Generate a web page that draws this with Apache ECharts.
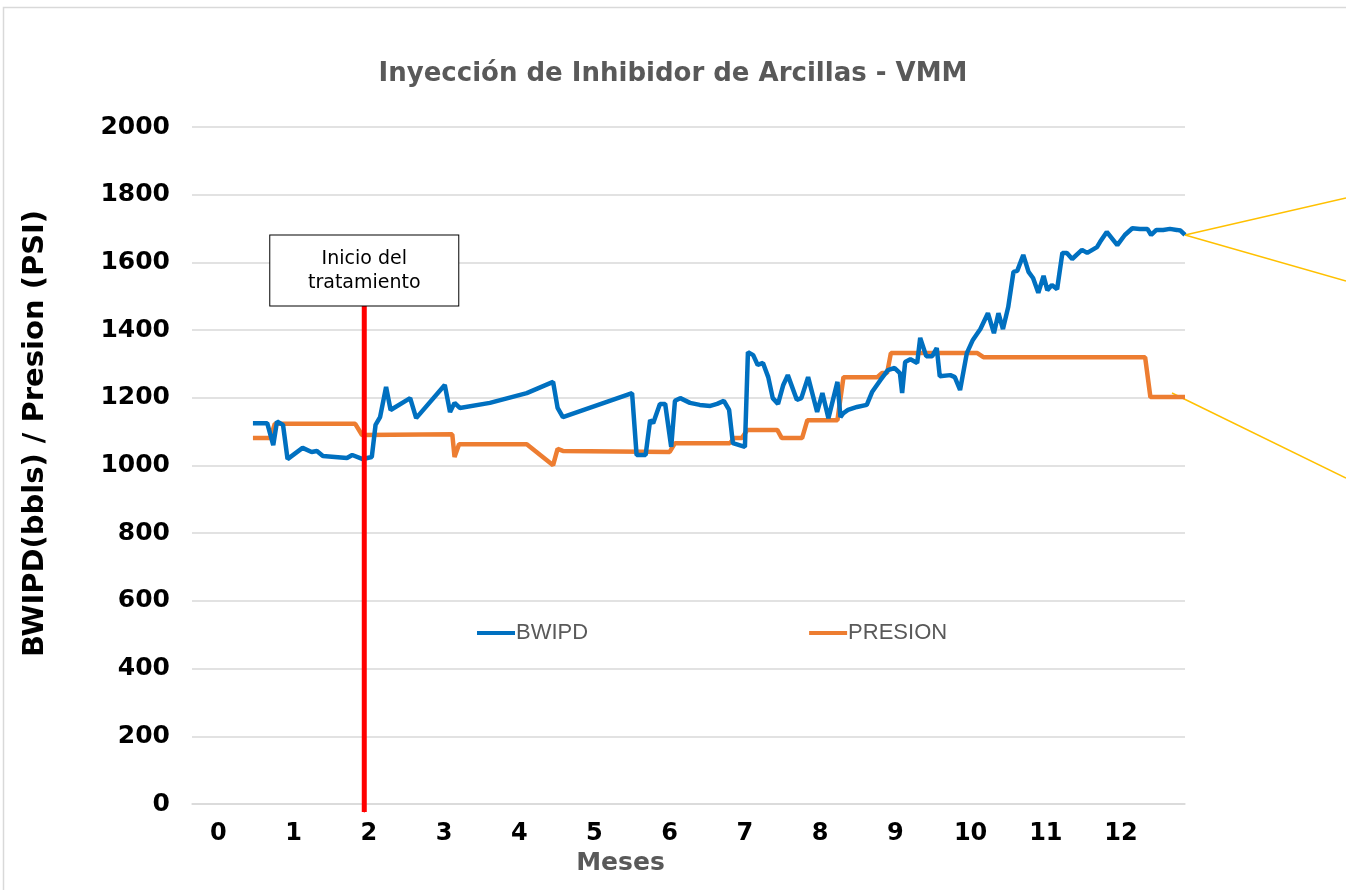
<!DOCTYPE html>
<html>
<head>
<meta charset="utf-8">
<title>Inyección de Inhibidor de Arcillas - VMM</title>
<script src="https://cdn.jsdelivr.net/npm/echarts@6/dist/echarts.min.js"></script>
<style>
  html, body { margin: 0; padding: 0; background: #fff; }
  #chart { width: 1346px; height: 890px; }
</style>
</head>
<body>
<div id="chart"></div>
<script>
// BWIPD (meses / bbls)
const bwipdMonths = [
  0.46, 0.65, 0.73, 0.78, 0.86, 0.92, 1.12, 1.24, 1.31, 1.39, 1.71, 1.78, 1.92, 2.04, 2.09, 2.15,
  2.23, 2.29, 2.55, 2.63, 3.01, 3.08, 3.14, 3.21, 3.61, 4.10, 4.45, 4.51, 4.58, 5.50, 5.56, 5.68,
  5.74, 5.78, 5.87, 5.94, 6.02, 6.07, 6.14, 6.27, 6.40, 6.54, 6.63, 6.72, 6.79, 6.84, 7.00, 7.04,
  7.11, 7.17, 7.24, 7.31, 7.37, 7.44, 7.51, 7.57, 7.69, 7.75, 7.84, 7.96, 8.03, 8.11, 8.23, 8.27,
  8.31, 8.37, 8.49, 8.62, 8.69, 8.80, 8.90, 8.99, 9.06, 9.09, 9.13, 9.20, 9.29, 9.33, 9.41, 9.49,
  9.55, 9.59, 9.73, 9.79, 9.86, 9.95, 10.03, 10.13, 10.23, 10.31, 10.37, 10.43, 10.50, 10.57, 10.62, 10.70,
  10.77, 10.83, 10.90, 10.97, 11.02, 11.08, 11.15, 11.22, 11.28, 11.35, 11.48, 11.55, 11.68, 11.72, 11.81, 11.95,
  12.05, 12.15, 12.25, 12.35, 12.40, 12.47, 12.56, 12.65, 12.74, 12.79, 12.85
];
const bwipdValues = [
  1125, 1125, 1060, 1130, 1120, 1019, 1052, 1040, 1043, 1028, 1022, 1031, 1019, 1025, 1120, 1143,
  1232, 1164, 1199, 1140, 1238, 1158, 1185, 1170, 1185, 1214, 1247, 1170, 1143, 1214, 1031, 1031,
  1134, 1125, 1182, 1182, 1055, 1191, 1199, 1185, 1179, 1176, 1182, 1191, 1164, 1066, 1055, 1335,
  1326, 1297, 1303, 1261, 1199, 1182, 1238, 1267, 1194, 1199, 1261, 1158, 1214, 1140, 1247, 1143,
  1155, 1164, 1173, 1179, 1217, 1252, 1282, 1288, 1273, 1214, 1306, 1314, 1303, 1377, 1323, 1323,
  1347, 1264, 1267, 1261, 1223, 1332, 1371, 1403, 1450, 1391, 1450, 1403, 1468, 1572, 1575, 1622,
  1572, 1554, 1510, 1560, 1518, 1533, 1521, 1628, 1628, 1610, 1637, 1628, 1645, 1660, 1690, 1651,
  1681, 1701, 1699, 1699, 1681, 1696, 1696, 1699, 1696, 1694, 1681
];

// PRESION (meses / psi)
const presionMonths = [
  0.46, 0.69, 0.75, 1.82, 1.91, 3.11, 3.14, 3.20, 4.10, 4.45, 4.51, 4.58, 6.00, 6.07, 6.80, 6.86,
  6.96, 7.03, 7.43, 7.49, 7.76, 7.83, 8.23, 8.31, 8.76, 8.82, 8.89, 8.94, 10.09, 10.17, 12.32, 12.39, 12.85
];
const presionValues = [
  1081, 1081, 1123, 1123, 1090, 1092, 1025, 1063, 1063, 1001, 1049, 1043, 1040, 1066, 1066, 1081,
  1081, 1105, 1105, 1081, 1081, 1134, 1134, 1261, 1261, 1273, 1273, 1332, 1332, 1320, 1320, 1202, 1202
];

// linea de inicio del tratamiento (mes 2)
const inicioMonth = [1.94, 1.94];
const inicioValues = [1471, -24];

const yTicks = { min: 0, max: 2000, interval: 200 };

const zip = (xs, ys) => xs.map((x, i) => [x, ys[i]]);

const chart = echarts.init(document.getElementById('chart'), null, { renderer: 'canvas' });

const option = {
  backgroundColor: '#fff',
  animation: false,
  title: {
    text: 'Inyección de Inhibidor de Arcillas - VMM',
    left: 'center',
    top: 56,
    textStyle: {
      fontFamily: 'DejaVu Sans',
      fontSize: 26,
      fontWeight: 'bold',
      color: '#595959'
    }
  },
  grid: {
    left: 192,
    right: 161,
    top: 127,
    bottom: 86
  },
  legend: {
    data: ['BWIPD', 'PRESION'],
    left: 472,
    top: 617,
    icon: 'rect',
    itemWidth: 38,
    itemHeight: 4,
    itemGap: 221,
    textStyle: {
      fontFamily: 'Liberation Sans',
      fontSize: 22,
      color: '#595959',
      padding: [0, 0, 0, -4]
    }
  },
  xAxis: {
    type: 'value',
    min: -0.35,
    max: 12.85,
    interval: 0.05,
    name: 'Meses',
    nameLocation: 'middle',
    nameGap: 40,
    nameTextStyle: {
      fontFamily: 'DejaVu Sans',
      fontSize: 25,
      fontWeight: 'bold',
      color: '#595959',
      padding: [0, 136, 0, 0]
    },
    axisLine: { show: true, lineStyle: { color: '#d9d9d9', width: 1.5 } },
    axisTick: { show: false },
    splitLine: { show: false },
    axisLabel: {
      interval: 0,
      margin: 18,
      fontFamily: 'DejaVu Sans',
      fontSize: 24,
      fontWeight: 'bold',
      color: '#000',
      formatter: (v) => Math.abs(v - Math.round(v)) < 1e-6 ? String(Math.round(v)) : ''
    }
  },
  yAxis: {
    type: 'value',
    min: yTicks.min,
    max: yTicks.max,
    interval: yTicks.interval,
    name: 'BWIPD(bbls) / Presion (PSI)',
    nameLocation: 'middle',
    nameGap: 142,
    nameTextStyle: {
      fontFamily: 'DejaVu Sans',
      fontSize: 29,
      fontWeight: 'bold',
      color: '#000',
      padding: [0, 0, 0, 64]
    },
    axisLine: { show: false },
    axisTick: { show: false },
    splitLine: { lineStyle: { color: '#d9d9d9', width: 1.5 } },
    axisLabel: {
      margin: 22,
      fontFamily: 'DejaVu Sans',
      fontSize: 25,
      fontWeight: 'bold',
      color: '#000',
      formatter: (v) => String(v)
    }
  },
  series: [
    {
      name: 'BWIPD',
      type: 'line',
      data: zip(bwipdMonths, bwipdValues),
      symbol: 'none',
      lineStyle: { color: '#0070C0', width: 4.5 },
      itemStyle: { color: '#0070C0' },
      z: 3
    },
    {
      name: 'PRESION',
      type: 'line',
      data: zip(presionMonths, presionValues),
      symbol: 'none',
      lineStyle: { color: '#ED7D31', width: 4.5 },
      itemStyle: { color: '#ED7D31' },
      z: 2
    },
    {
      name: 'Inicio',
      type: 'line',
      clip: false,
      data: [
        {
          value: [inicioMonth[0], inicioValues[0]],
          label: {
            show: true,
            position: 'top',
            distance: 0,
            formatter: 'Inicio del\ntratamiento',
            fontFamily: 'DejaVu Sans',
            fontSize: 19,
            lineHeight: 24,
            color: '#000',
            align: 'center',
            width: 168,
            padding: [11, 10, 11, 10],
            backgroundColor: '#fff',
            borderColor: '#000',
            borderWidth: 1
          }
        },
        [inicioMonth[1], inicioValues[1]]
      ],
      symbol: 'circle',
      symbolSize: 1,
      showSymbol: true,
      lineStyle: { color: '#FF0000', width: 5 },
      itemStyle: { color: '#FF0000' },
      z: 5,
      silent: true
    }
  ],
  graphic: [
    {
      type: 'rect',
      silent: true,
      shape: { x: 3.5, y: 7.5, width: 1400, height: 1000 },
      style: { fill: 'none', stroke: '#d9d9d9', lineWidth: 1.5 }
    },
    {
      type: 'line',
      silent: true,
      shape: { x1: 1185, y1: 235, x2: 1346, y2: 198 },
      style: { stroke: '#FFC000', lineWidth: 1.5 }
    },
    {
      type: 'line',
      silent: true,
      shape: { x1: 1185, y1: 235, x2: 1346, y2: 281 },
      style: { stroke: '#FFC000', lineWidth: 1.5 }
    },
    {
      type: 'line',
      silent: true,
      shape: { x1: 1172, y1: 393, x2: 1346, y2: 478 },
      style: { stroke: '#FFC000', lineWidth: 1.5 }
    }
  ]
};

chart.setOption(option);
</script>
</body>
</html>
